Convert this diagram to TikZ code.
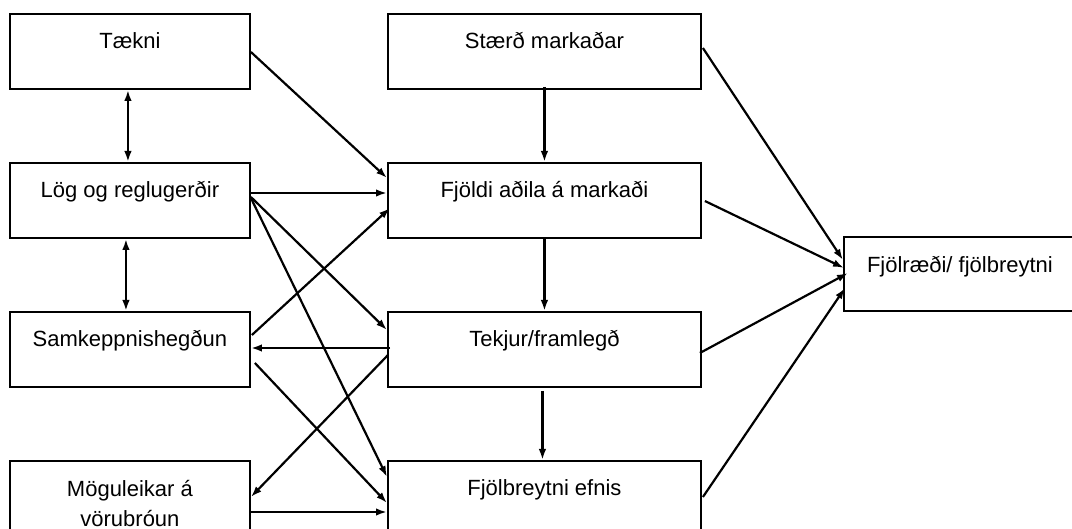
\documentclass[tikz,border=0pt]{standalone}
\usepackage{fontspec}
\setmainfont{Liberation Sans}
\usetikzlibrary{arrows.meta}

\begin{document}
\begin{tikzpicture}[x=1pt,y=-1pt,
    >={Latex[length=11pt,width=7.5pt]},
    box/.style={draw, line width=1.9pt, anchor=north west, inner sep=0pt,
        text height=35pt, text depth=40pt, align=center,
        font=\fontsize{22}{30}\selectfont},
    leftbox/.style={box, minimum width=240pt},
    midbox/.style={box, minimum width=313pt},
    arr/.style={->, line width=2.2pt}]
    \useasboundingbox (0,0) rectangle (1072,529);
    %kassar
    \node[leftbox] (tak) at (9,13) {Tækni};
    \node[leftbox] (lag) at (9,162) {Lög og reglugerðir};
    \node[leftbox] (sam) at (9,311) {Samkeppnishegðun};
    \node[leftbox, text height=66pt, text depth=12pt] (mog) at (9,460) {Möguleikar á\\vörubróun};
    \node[midbox] (sta) at (387,13) {Stærð markaðar};
    \node[midbox] (fjo) at (387,162) {Fjöldi aðila á markaði};
    \node[midbox] (tek) at (387,311) {Tekjur/framlegð};
    \node[midbox] (fje) at (387,460) {Fjölbreytni efnis};
    \node[box, minimum width=232pt, text height=36pt, text depth=38pt] (fjr) at (843,236) {Fjölræði/ fjölbreytni};
    %vinstri dalkur
    \draw[arr, <->] ([xshift=-2pt]tak.south) -- ([xshift=-2pt]lag.north);
    \draw[arr, <->] ([xshift=-4pt]lag.south) -- ([xshift=-4pt]sam.north);
    \draw[arr] ([yshift=-39pt]tak.north east) -- ([yshift=-16pt]fjo.north west);
    \draw[arr] ([yshift=-31pt]lag.north east) -- ([yshift=-31pt]fjo.north west);
    \draw[arr] ([yshift=-35pt]lag.north east) -- ([yshift=-19pt]tek.north west);
    \draw[arr] ([yshift=-36pt]lag.north east) -- ([yshift=-17pt]fje.north west);
    \draw[arr] ([xshift=1pt,yshift=-24pt]sam.north east) -- ([xshift=3pt,yshift=-46pt]fjo.north west);
    \draw[arr] ([xshift=3pt,yshift=-37pt]tek.north west) -- ([yshift=-37pt]sam.north east);
    \draw[arr] ([xshift=1pt,yshift=-44pt]tek.north west) -- ([yshift=-37pt]mog.north east);
    \draw[arr] ([xshift=4pt,yshift=-52pt]sam.north east) -- ([yshift=-43pt]fje.north west);
    \draw[arr] ([yshift=-52pt]mog.north east) -- ([yshift=-52pt]fje.north west);
    %midjan
    \draw[arr] ([yshift=3pt]sta.south) -- (fjo.north);
    \draw[arr] (fjo.south) -- (tek.north);
    \draw[arr] ([xshift=-2pt,yshift=-3pt]tek.south) -- ([xshift=-2pt]fje.north);
    %haegri
    \draw[arr] ([xshift=1pt,yshift=-35pt]sta.north east) -- ([yshift=-24pt]fjr.north west);
    \draw[arr] ([xshift=3pt,yshift=-39pt]fjo.north east) -- ([xshift=1pt,yshift=-32pt]fjr.north west);
    \draw[arr] ([xshift=-2pt,yshift=-42pt]tek.north east) -- ([xshift=5pt,yshift=-37pt]fjr.north west);
    \draw[arr] ([xshift=1pt,yshift=-37pt]fje.north east) -- ([xshift=2pt,yshift=-52pt]fjr.north west);
\end{tikzpicture}
\end{document}
